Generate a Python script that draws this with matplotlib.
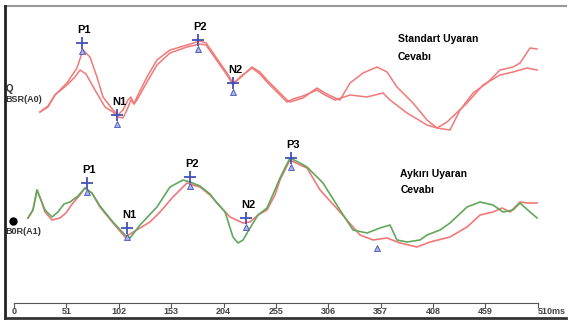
import matplotlib
matplotlib.use("Agg")
import matplotlib.pyplot as plt
from matplotlib.lines import Line2D

plt.rcParams["font.family"] = ["Liberation Sans", "DejaVu Sans"]

# latency (ms) / amplitude for the standard-stimulus responses (two runs)
std1_ms = [25.3, 33.1, 39.9, 51.6, 61.3, 67.2, 74, 80.8, 86.7, 96.4, 101.3, 106.1, 111, 113.9,
           116.8, 119.8, 129.5, 139.2, 151.9, 168.5, 181.1, 187, 193.8, 207.4, 213.2, 220.1,
           231.7, 239.5, 246.3, 256.1, 265.8, 268.7, 281.4, 295, 302.8, 310.6, 317.4, 327.2,
           339.8, 353.5, 363.2, 372.9, 388.5, 402.1, 411.9, 424.5, 434.3, 446.9, 460.6, 473.2,
           485.9, 492.7, 502.4, 509.3]
std1_amp = [-0.2, 0.3, 1.5, 2.7, 4.2, 6.0, 5.3, 3.3, 1.3, 0.0, -0.5, 0.0, 1.0, 1.3,
            0.6, 1.3, 3.3, 5.0, 6.0, 6.5, 6.9, 6.7, 5.7, 3.7, 2.7, 3.2,
            4.3, 3.8, 3.0, 2.0, 1.0, 0.8, 1.2, 2.2, 1.7, 1.3, 1.0, 2.7,
            3.7, 4.3, 3.8, 2.3, 0.7, -1.0, -1.8, -2.0, 0.0, 1.7, 2.7, 4.0,
            4.3, 4.7, 6.2, 6.1]
std2_ms = [25.3, 33.1, 39.9, 51.6, 59.4, 64.3, 70.1, 78.9, 88.6, 96.4, 101.3, 106.1, 110, 113.9,
           116.8, 119.8, 129.5, 139.2, 151.9, 168.5, 181.1, 187, 193.8, 207.4, 213.2, 220.1,
           231.7, 239.5, 246.3, 256.1, 265.8, 271.7, 281.4, 295, 302.8, 312.6, 327.2, 343.7,
           359.3, 366.1, 382.7, 402.1, 411.9, 421.6, 441.1, 456.7, 473.2, 485.9, 499.5, 509.3]
std2_amp = [-0.2, 0.4, 1.5, 2.5, 3.3, 4.0, 3.6, 2.0, 0.3, -0.2, -0.7, -0.8, 0.0, 1.0,
            0.6, 1.0, 2.8, 4.5, 5.7, 6.3, 6.6, 6.5, 5.5, 3.5, 2.5, 3.3,
            4.2, 3.6, 2.8, 1.8, 0.8, 1.1, 1.4, 2.0, 1.5, 1.0, 1.5, 1.3,
            1.7, 1.0, -0.3, -1.5, -1.8, -1.2, 0.7, 2.5, 3.5, 3.8, 4.2, 4.0]

# deviant-stimulus responses (red and green runs)
dev_red_ms = [13.6, 18.5, 22.4, 26.3, 30.2, 37, 44.8, 50.6, 57.4, 64.3, 69.1, 75.9, 83.7, 96.4,
              108.1, 113, 122.7, 132.4, 142.2, 154.8, 168.5, 174.3, 181.1, 190.8, 197.7, 210.3,
              223, 229.8, 237.6, 246.3, 254.1, 259, 268.7, 278.5, 285.3, 298, 317.4, 336.9,
              349.6, 363.2, 375.9, 392.4, 405.1, 424.5, 441.1, 453.8, 466.4, 475.2, 483, 492.7,
              499.5, 509.3]
dev_red_amp = [0.2, 1.0, 3.0, 2.0, 0.8, 0.0, 0.2, 0.7, 1.7, 2.5, 3.2, 2.7, 1.3, -0.3,
               -1.7, -1.4, -0.8, -0.2, 0.8, 2.3, 3.7, 3.5, 3.3, 2.5, 1.7, 0.3,
               -0.3, -0.2, 0.5, 1.0, 2.5, 4.0, 6.0, 5.5, 5.2, 3.0, 0.8, -1.5,
               -2.0, -1.8, -2.3, -2.7, -2.2, -1.7, -0.7, 0.5, 0.8, 1.2, 0.8, 1.8,
               1.7, 1.7]
dev_grn_ms = [13.6, 18.5, 22.4, 26.3, 30.2, 37, 42.8, 48.7, 54.5, 62.3, 69.1, 75.9, 83.7, 96.4,
              108.1, 113, 122.7, 139.2, 151.9, 164.6, 171.4, 181.1, 190.8, 197.7, 205.5, 213.2,
              218.1, 223, 229.8, 237.6, 246.3, 254.1, 259, 268.7, 278.5, 285.3, 300.9, 317.4,
              330.1, 343.7, 356.4, 366.1, 372.9, 382.7, 395.3, 402.1, 414.8, 424.5, 441.1, 453.8,
              466.4, 476.1, 485.9, 492.7, 502.4, 509.3]
dev_grn_amp = [0.2, 1.0, 3.0, 2.0, 1.0, 0.3, 0.8, 1.6, 1.8, 2.4, 3.2, 2.7, 1.4, -0.2,
               -1.5, -1.8, -0.5, 1.3, 3.3, 4.0, 3.8, 3.4, 2.6, 1.7, 0.8, -1.7,
               -2.3, -2.0, -0.8, 0.5, 1.2, 3.0, 4.2, 6.2, 5.7, 5.3, 3.7, 1.0,
               -1.0, -1.3, -0.8, -0.5, -2.0, -2.2, -2.0, -1.5, -1.0, -0.3, 1.3, 1.8,
               1.5, 0.8, 1.0, 1.7, 0.8, 0.2]

# labelled peaks
std_peaks = ["P1", "N1", "P2", "N2"]
std_peak_ms = [66.2, 100.3, 179.2, 213.2]
std_peak_amp = [6.7, -0.5, 7.0, 2.7]
dev_peaks = ["P1", "N1", "P2", "N2", "P3"]
dev_peak_ms = [71.1, 110.0, 171.4, 225.9, 269.7]
dev_peak_amp = [3.7, -0.8, 4.3, 0.2, 6.2]

ticks = [0, 51, 102, 153, 204, 255, 306, 357, 408, 459, 510]

dev_offset = -11
red = "#f27878"
green = "#5fa85c"
blue = "#4352b8"

fig = plt.figure(figsize=(5.68, 3.2), dpi=100)
ax = fig.add_axes([0, 0, 1, 1])
ax.set_xlim(-13.6, 539.4)
ax.set_ylim(-21, 11)
ax.axis("off")

ax.plot(std1_ms, std1_amp, color=red, lw=1.1)
ax.plot(std2_ms, std2_amp, color=red, lw=1.1)
ax.plot(dev_red_ms, [a + dev_offset for a in dev_red_amp], color=red, lw=1.2)
ax.plot(dev_grn_ms, [a + dev_offset for a in dev_grn_amp], color=green, lw=1.2)


def mark(names, lat, amp, off):
    for n, x, a in zip(names, lat, amp):
        y = a + off
        ax.plot(x, y, marker="+", ms=9, mew=1.3, color=blue)
        ax.plot(x, y - 0.85, marker="^", ms=4, mfc="#aab4e8", mec=blue, mew=0.6)
        ax.text(x + 2, y + 1.3, n, ha="center", va="center", fontsize=8, fontweight="bold")


mark(std_peaks, std_peak_ms, std_peak_amp, 0)
mark(dev_peaks, dev_peak_ms, dev_peak_amp, dev_offset)
ax.plot(353.5, -2.8 + dev_offset, marker="^", ms=4, mfc="#aab4e8", mec=blue, mew=0.6)

# channel labels
ax.text(-4.5, 2.1, "Q", fontsize=7, fontweight="bold", color="#333333", ha="center", va="center")
ax.text(-8.5, 1.0, "BSR(A0)", fontsize=6.5, fontweight="bold", color="#333333", va="center")
ax.plot(-1, -0.1 + dev_offset, "o", ms=5, color="black")
ax.text(-8.5, -1.2 + dev_offset, "B0R(A1)", fontsize=6.5, fontweight="bold", color="#333333", va="center")

ax.text(374, 6.2, "Standart Uyaran\nCevabı", fontsize=7.5, fontweight="bold",
        va="center", linespacing=1.9)
ax.text(376, 3.8 + dev_offset, "Aykırı Uyaran\nCevabı", fontsize=7.5, fontweight="bold",
        va="center", linespacing=1.7)

# time ruler
ry = -19.3
ax.plot([ticks[0], ticks[-1]], [ry, ry], color="#555555", lw=0.8)
for t in ticks:
    ax.plot([t, t], [ry, ry - 0.35], color="#555555", lw=0.8)
    lab = f"{t}ms" if t == ticks[-1] else str(t)
    ax.text(t, ry - 0.4, lab, fontsize=6.5, fontweight="bold", color="#444444",
            ha="left" if t == ticks[-1] else "center", va="top")

# outer frame
fig.add_artist(Line2D([5 / 568, 566 / 568], [1 - 6 / 320] * 2, color="#999999", lw=1.5))
fig.add_artist(Line2D([5 / 568] * 2, [2 / 320, 1 - 6 / 320], color="#222222", lw=2))
fig.add_artist(Line2D([5 / 568, 566 / 568], [2 / 320] * 2, color="#333333", lw=2))

fig.savefig("out.png", dpi=100)
